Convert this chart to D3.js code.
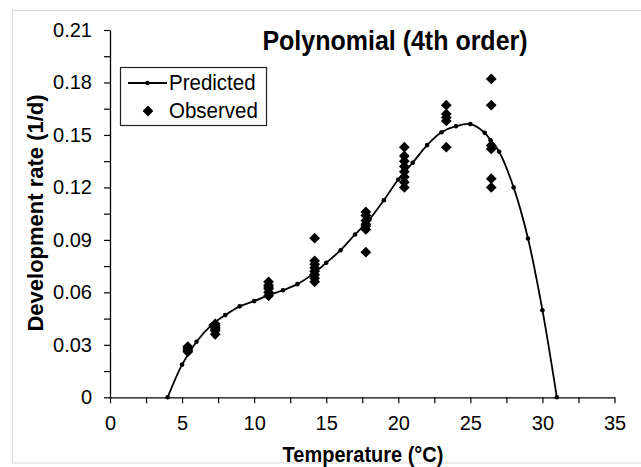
<!DOCTYPE html>
<html><head><meta charset="utf-8">
<script src="https://cdn.jsdelivr.net/npm/d3@7"></script>
<style>body{margin:0;background:#fff}svg{display:block}text{font-family:"Liberation Sans",Arial,sans-serif;fill:#000}</style>
</head><body><svg id="c" width="641" height="467"></svg>
<script>
// Predicted (4th order polynomial) temperature and rate
const predT = [4,5,6,7,8,9,10,11,12,13,14,15,16,17,18,19,20,21,22,23,24,25,26,26.4,27,28,29,30,31];
const predV = [0,0.0187,0.0318,0.041,0.047,0.052,0.055,0.0584,0.0612,0.0647,0.0700,0.0769,0.0841,0.0931,0.1017,0.1127,0.1245,0.1341,0.1442,0.1515,0.1550,0.1562,0.1512,0.1470,0.1404,0.1200,0.0908,0.0498,0];
// Observed temperature and rates
const obsT = [5.4,5.4,5.4,5.4,
  7.3,7.3,7.3,7.3,7.3,7.3,
  11,11,11,11,11,11,
  14.2,14.2,14.2,14.2,14.2,14.2,14.2,14.2,
  17.75,17.75,17.75,17.75,17.75,17.75,17.75,
  20.42,20.42,20.42,20.42,20.42,20.42,20.42,20.42,
  23.33,23.33,23.33,23.33,23.33,
  26.45,26.45,26.45,26.45,26.45,26.45];
const obsV = [0.026,0.027,0.028,0.029,
  0.036,0.038,0.039,0.040,0.041,0.042,
  0.058,0.060,0.062,0.063,0.064,0.066,
  0.091,0.078,0.076,0.074,0.072,0.070,0.068,0.066,
  0.106,0.104,0.101,0.099,0.098,0.096,0.083,
  0.143,0.138,0.135,0.132,0.129,0.126,0.123,0.120,
  0.167,0.162,0.160,0.158,0.143,
  0.182,0.167,0.144,0.142,0.125,0.120];
const xTicks = [0,5,10,15,20,25,30,35];
const xMinor = [2.5,7.5,12.5,17.5,22.5,27.5,32.5];
const yTicks = [0,0.03,0.06,0.09,0.12,0.15,0.18,0.21];
const yMinor = [0.015,0.045,0.075,0.105,0.135,0.165,0.195];
const titleText = "Polynomial (4th order)";
const xLabel = "Temperature (°C)";
const yLabel = "Development rate (1/d)";
const legendLabels = ["Predicted","Observed"];

const svg = d3.select("#c");
svg.append("rect").attr("x",12.5).attr("y",10.5).attr("width",640).attr("height",452.5)
  .attr("fill","#fff").attr("stroke","#d9d9d9");

const x = d3.scaleLinear().domain([0,35]).range([110,614.5]);
const y = d3.scaleLinear().domain([0,0.21]).range([397.3,30]);

// axes
const xAx = svg.append("g").attr("transform",`translate(0,${y(0)})`)
  .call(d3.axisBottom(x).tickValues(xTicks.concat(xMinor)).tickSize(6).tickSizeOuter(0)
    .tickFormat(d=>xTicks.includes(d)?d3.format("d")(d):""));
const yAx = svg.append("g").attr("transform",`translate(${x(0)},0)`)
  .call(d3.axisLeft(y).tickValues(yTicks.concat(yMinor)).tickSize(6).tickSizeOuter(0)
    .tickFormat(d=>yTicks.some(t=>Math.abs(t-d)<1e-9)?(d===0?"0":d3.format(".2f")(d)):""));
[xAx,yAx].forEach(g=>{
  g.select(".domain").attr("stroke","#000").attr("stroke-width",1.3);
  g.selectAll(".tick line").attr("stroke","#000").attr("stroke-width",1.2);
  g.selectAll("text").attr("font-size",20).attr("font-family","'Liberation Sans',Arial,sans-serif").attr("fill","#000");
});
xAx.selectAll("text").attr("y",19);
yAx.selectAll("text").attr("x",-18);

// predicted line
const line = d3.line().x((d,i)=>x(predT[i])).y((d,i)=>y(predV[i])).curve(d3.curveCatmullRom.alpha(0.5));
svg.append("path").datum(predV).attr("d",line).attr("fill","none").attr("stroke","#000").attr("stroke-width",1.8);
svg.append("g").selectAll("circle").data(predV).join("circle")
  .attr("cx",(d,i)=>x(predT[i])).attr("cy",d=>y(d)).attr("r",2.3).attr("fill","#000");

// observed diamonds
const diamond = d3.symbol(d3.symbolSquare,58)();
svg.append("g").selectAll("path").data(obsV).join("path")
  .attr("d",diamond).attr("fill","#000")
  .attr("transform",(d,i)=>`translate(${x(obsT[i])},${y(d)}) rotate(45)`);

// title & labels
svg.append("text").attr("transform","translate(395,50) scale(1,1.08)").attr("text-anchor","middle")
  .attr("font-size",25).attr("font-weight","bold").text(titleText);
svg.append("text").attr("transform","translate(363,462) scale(1,1.06)").attr("text-anchor","middle")
  .attr("font-size",20).attr("font-weight","bold").text(xLabel);
svg.append("text").attr("transform","translate(43,213) rotate(-90)").attr("text-anchor","middle")
  .attr("font-size",22).attr("font-weight","bold").text(yLabel);

// legend
const lg = svg.append("g");
lg.append("rect").attr("x",120.5).attr("y",67.5).attr("width",146).attr("height",58)
  .attr("fill","#fff").attr("stroke","#222").attr("stroke-width",1.2);
lg.append("line").attr("x1",128).attr("x2",167).attr("y1",83).attr("y2",83).attr("stroke","#000").attr("stroke-width",2);
lg.append("circle").attr("cx",147.5).attr("cy",83).attr("r",2.3).attr("fill","#000");
lg.append("path").attr("d",diamond).attr("fill","#000").attr("transform","translate(148,111) rotate(45)");
lg.selectAll("text.l").data(legendLabels).join("text").attr("class","l")
  .attr("transform",(d,i)=>`translate(169,${90+i*28}) scale(1,1.08)`).attr("font-size",20.5).text(d=>d);
</script></body></html>
